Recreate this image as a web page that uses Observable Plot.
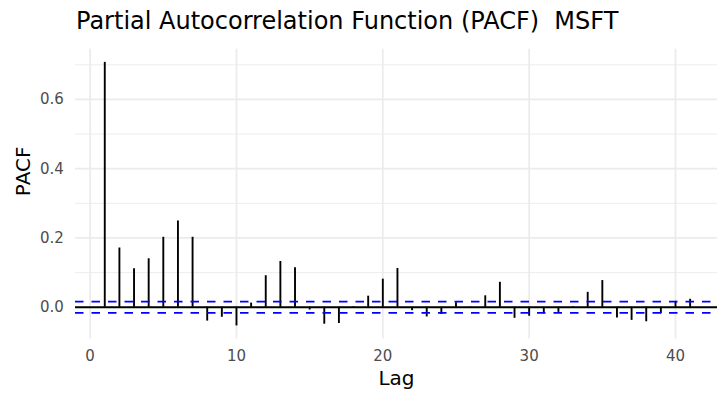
<!DOCTYPE html>
<html>
<head>
<meta charset="utf-8">
<script src="https://cdn.jsdelivr.net/npm/d3@7"></script>
<script src="https://cdn.jsdelivr.net/npm/@observablehq/plot@0.6"></script>
<style>
  html, body { margin: 0; padding: 0; background: #fff; }
  #title {
    box-sizing: border-box; height: 44px; padding: 9px 0 0 76px;
    font-family: "DejaVu Sans", sans-serif; font-size: 24px; line-height: 24px;
    color: #000; white-space: pre;
  }
</style>
</head>
<body>
<div id="title">Partial Autocorrelation Function (PACF)  MSFT</div>
<div id="chart"></div>
<script>
const lags = [1,2,3,4,5,6,7,8,9,10,11,12,13,14,15,16,17,18,19,20,21,22,23,24,25,26,27,28,29,30,31,32,33,34,35,36,37,38,39,40,41];
const pacf = [0.707,0.171,0.111,0.140,0.202,0.249,0.202,-0.040,-0.029,-0.054,
              0.012,0.091,0.132,0.114,-0.008,-0.049,-0.047,0.002,0.032,0.081,
              0.112,-0.010,-0.028,-0.021,0.013,-0.002,0.033,0.072,-0.032,-0.026,
              -0.019,-0.015,0.002,0.043,0.077,-0.031,-0.038,-0.042,-0.019,0.017,0.023];
const confBound = 0.0163;
const xTicks = [0, 10, 20, 30, 40];
const yTicks = [0, 0.2, 0.4, 0.6];
const yMinor = [0.1, 0.3, 0.5, 0.7];
const xLabel = "Lag";
const yLabel = "PACF";

const data = lags.map((lag, i) => ({lag, value: pacf[i]}));

const chart = Plot.plot({
  width: 717,
  height: 350,
  marginLeft: 75,
  marginRight: 0,
  marginTop: 4.7,
  marginBottom: 55.4,
  style: {fontFamily: "'DejaVu Sans', sans-serif", background: "#fff"},
  x: {domain: [-1.0, 42.87], label: null},
  y: {domain: [-0.092, 0.745], label: null},
  marks: [
    Plot.gridY(yMinor, {stroke: "#ebebeb", strokeOpacity: 1, strokeWidth: 0.9}),
    Plot.gridY(yTicks, {stroke: "#ebebeb", strokeOpacity: 1, strokeWidth: 1.7}),
    Plot.gridX(xTicks, {stroke: "#ebebeb", strokeOpacity: 1, strokeWidth: 1.7}),
    Plot.axisX(xTicks, {tickSize: 0, tickPadding: 11.5, fontSize: 15, color: "#4d4d4d", label: null, tickFormat: d3.format("d")}),
    Plot.axisY(yTicks, {tickSize: 0, tickPadding: 11.7, fontSize: 15, color: "#4d4d4d", label: null, tickFormat: d3.format(".1f")}),
    Plot.ruleY([0], {stroke: "#000", strokeWidth: 1.8}),
    Plot.ruleX(data, {x: "lag", y1: 0, y2: "value", stroke: "#000", strokeWidth: 1.9}),
    Plot.ruleY([confBound, -confBound], {stroke: "#0000ff", strokeWidth: 1.8, strokeDasharray: "8.5,8"}),
    Plot.text([xLabel], {frameAnchor: "bottom", dy: 39.5, lineAnchor: "middle", fontSize: 20, fill: "#000"}),
    Plot.text([yLabel], {frameAnchor: "left", dx: -52, dy: 2, rotate: -90, lineAnchor: "middle", fontSize: 20, fill: "#000"})
  ]
});
document.getElementById("chart").appendChild(chart);
</script>
</body>
</html>
